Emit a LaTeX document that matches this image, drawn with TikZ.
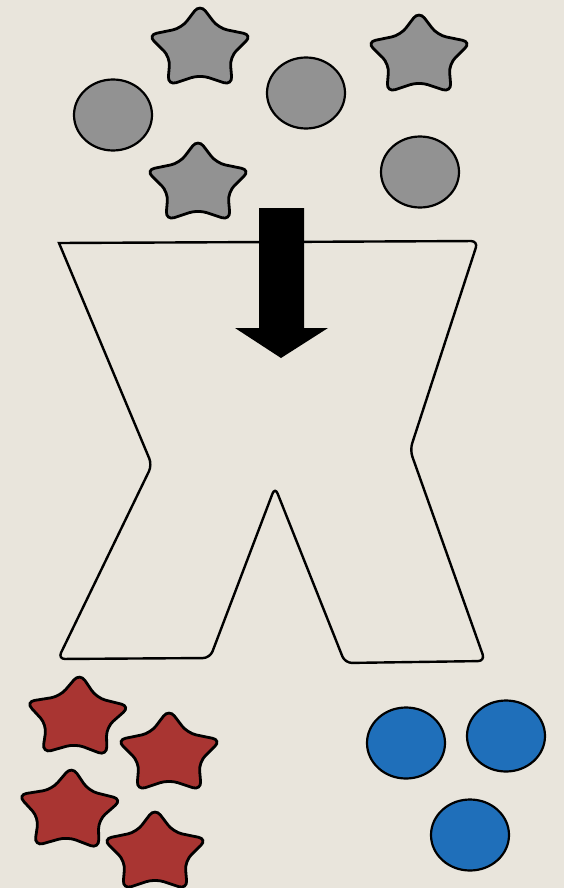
\documentclass[tikz,border=0pt]{standalone}
\usepackage{xcolor}
\usepackage{tikz}
\usetikzlibrary{shapes.geometric}
\definecolor{paper}{RGB}{233,229,220}
\definecolor{grey}{RGB}{146,146,146}
\definecolor{brick}{RGB}{169,53,50}
\definecolor{sea}{RGB}{31,111,186}

\begin{document}
\begin{tikzpicture}[
    x=1pt, y=-1pt,
    blob/.style={star, star points=5, star point ratio=1.75, minimum size=110pt,
        inner sep=0pt, draw=black, line width=2.8pt, rounded corners=9pt,
        yscale=0.82},
    dot/.style={ellipse, draw=black, line width=2.2pt, minimum width=78pt,
        minimum height=71pt, inner sep=0pt},
    rawstar/.style={blob, fill=grey},
    redstar/.style={blob, fill=brick},
    rawdot/.style={dot, fill=grey},
    bluedot/.style={dot, fill=sea}
]
\fill[paper] (0,0) rectangle (564,888);
\useasboundingbox (0,0) rectangle (564,888);

% input mix
\node[rawstar] (s1) at (200,49) {};
\node[rawstar] (s2) at (419,56) {};
\node[rawstar] (s3) at (198,184) {};
\node[rawdot] (c1) at (113,115) {};
\node[rawdot] (c2) at (306,93) {};
\node[rawdot] (c3) at (420,172) {};

% sorter
\draw[line width=2.4pt, fill=paper]
    (270,242) -- (59,243)
    [rounded corners=7pt] -- (152,465) -- (58,659) -- (210,658) -- (275,487)
    -- (345,663) -- (485,661) -- (410,450) -- (478,241) -- (270,242) -- cycle;

% feed arrow
\fill[black] (259,208) -- (304,208) -- (304,328) -- (328,328) -- (281,358)
    -- (235,328) -- (259,328) -- cycle;

% output: stars
\node[redstar, rotate=-3] (r1) at (77,718) {};
\node[redstar] (r2) at (169,754) {};
\node[redstar, rotate=-3] (r3) at (69,811) {};
\node[redstar] (r4) at (155,853) {};

% output: circles
\node[bluedot] (b1) at (406,743) {};
\node[bluedot] (b2) at (506,736) {};
\node[bluedot] (b3) at (470,835) {};
\end{tikzpicture}
\end{document}
